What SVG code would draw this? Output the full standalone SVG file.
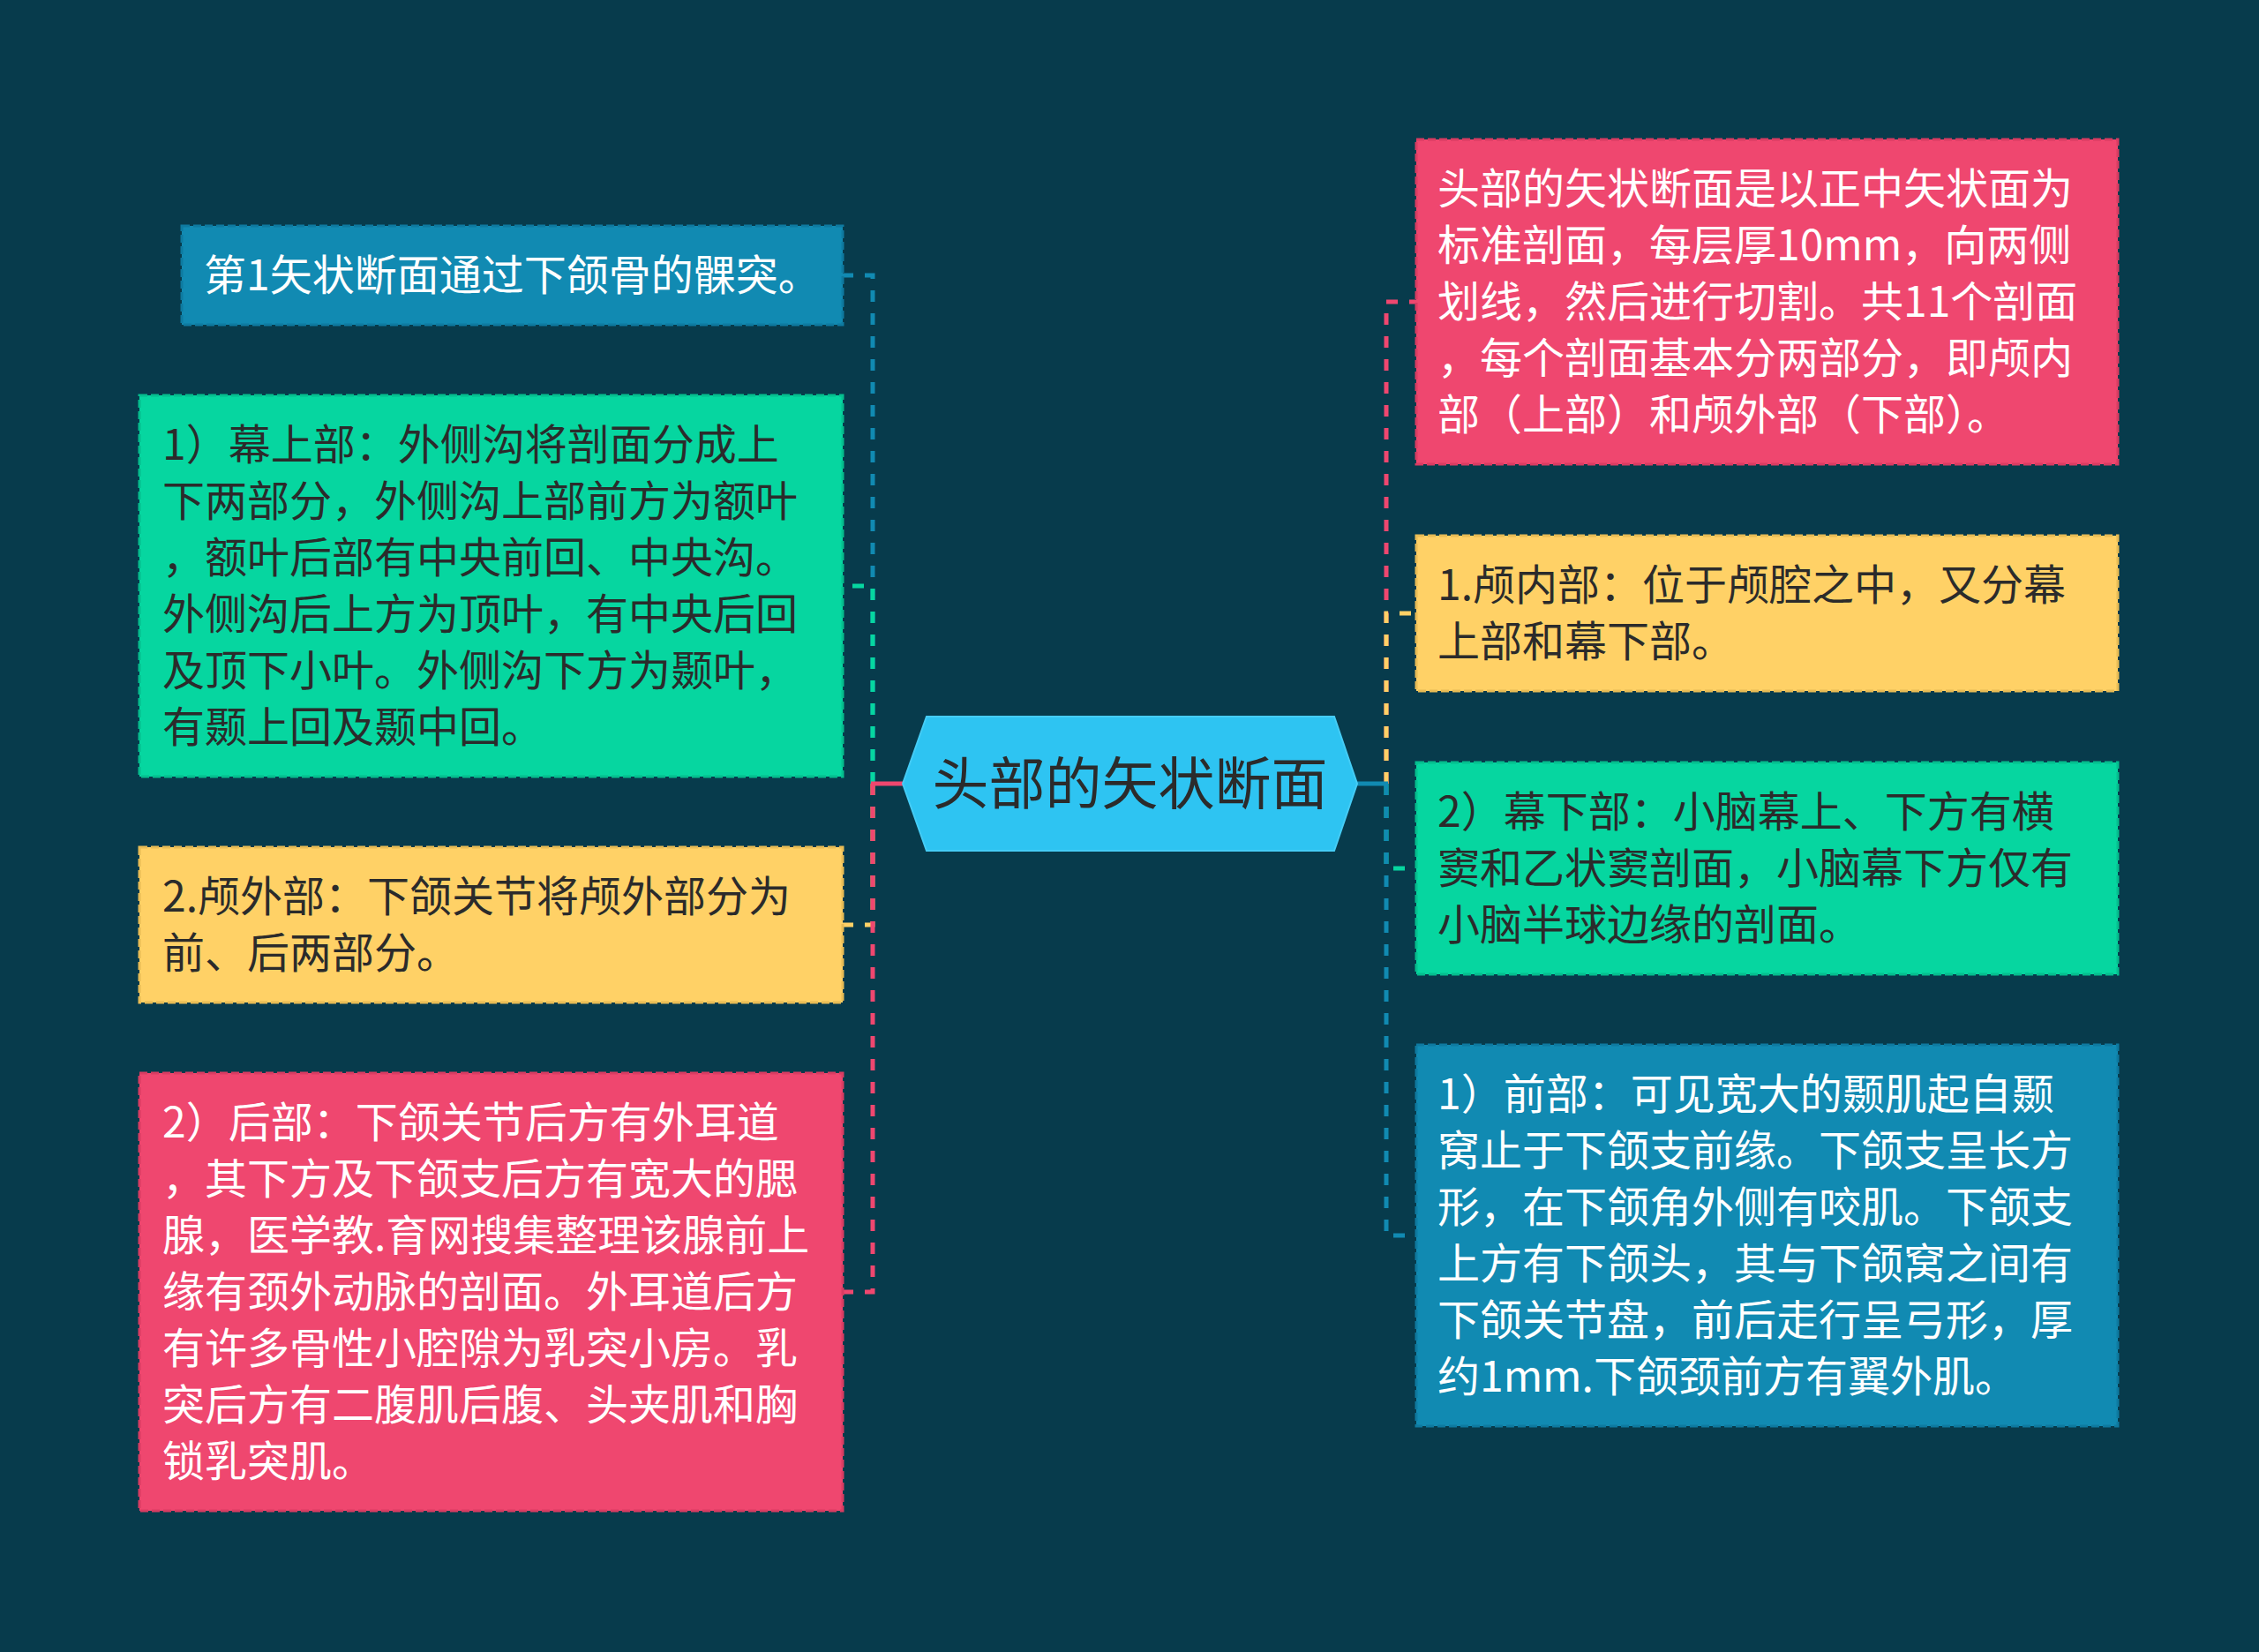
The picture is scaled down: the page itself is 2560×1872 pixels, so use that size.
<svg xmlns="http://www.w3.org/2000/svg" width="2560" height="1872" viewBox="0 0 2560 1872">
  <style>
    .t { font-family: "Noto Sans CJK SC", "Noto Sans", sans-serif; font-size: 48px; }
    .light { fill: #FFFFFF; }
    .dark { fill: #2B2B2B; }
    .conn { fill: none; stroke-width: 5; stroke-dasharray: 13 13; }
    .stub { fill: none; stroke-width: 5; }
    .box { stroke-width: 3; stroke-dasharray: 9 4; }
    .pink { fill: #EF476F; stroke: #D93C62; }
    .yellow { fill: #FFD166; stroke: #E8BC55; }
    .green { fill: #06D6A0; stroke: #05BE8E; }
    .blue { fill: #118AB2; stroke: #0E7AA0; }
  </style>
  <rect x="0" y="0" width="2560" height="1872" fill="#073B4C"/>

  <g id="connectors">
    <path class="conn" stroke="#118AB2" d="M989,888 V312 H955"/>
    <path class="conn" stroke="#06D6A0" d="M989,888 V664 H955"/>
    <path class="conn" stroke="#FFD166" d="M989,888 V1048 H955"/>
    <path class="conn" stroke="#EF476F" d="M989,888 V1464 H955"/>
    <path class="stub" stroke="#EF476F" d="M1024,888 H987"/>
    <path class="conn" stroke="#EF476F" d="M1571,888 V342 H1605"/>
    <path class="conn" stroke="#FFD166" d="M1571,888 V695 H1605"/>
    <path class="conn" stroke="#06D6A0" d="M1571,888 V984 H1605"/>
    <path class="conn" stroke="#118AB2" d="M1571,888 V1400 H1605"/>
    <path class="stub" stroke="#118AB2" d="M1537,888 H1573"/>
  </g>

  <g id="center">
    <polygon points="1023,888 1050,812 1512,812 1538,888 1512,964 1050,964" fill="#2EC4F2" stroke="#45CCF5" stroke-width="2"/>
    <text x="1280.5" y="911" text-anchor="middle" font-family="Noto Sans CJK SC, Noto Sans, sans-serif" font-size="64" fill="#2B2B2B">头部的矢状断面</text>
  </g>

  <g id="node-a">
    <rect class="box blue" x="206" y="256" width="749" height="112"/>
    <text class="t light" x="231" y="329">第1矢状断面通过下颌骨的髁突。</text>
  </g>

  <g id="node-b">
    <rect class="box green" x="158" y="448" width="797" height="432"/>
    <text class="t dark">
      <tspan x="184" y="521">1）幕上部：外侧沟将剖面分成上</tspan>
      <tspan x="184" y="585">下两部分，外侧沟上部前方为额叶</tspan>
      <tspan x="184" y="649">，额叶后部有中央前回、中央沟。</tspan>
      <tspan x="184" y="713">外侧沟后上方为顶叶，有中央后回</tspan>
      <tspan x="184" y="777">及顶下小叶。外侧沟下方为颞叶，</tspan>
      <tspan x="184" y="841">有颞上回及颞中回。</tspan>
    </text>
  </g>

  <g id="node-c">
    <rect class="box yellow" x="158" y="960" width="797" height="176"/>
    <text class="t dark">
      <tspan x="184" y="1033">2.颅外部：下颌关节将颅外部分为</tspan>
      <tspan x="184" y="1097">前、后两部分。</tspan>
    </text>
  </g>

  <g id="node-d">
    <rect class="box pink" x="158" y="1216" width="797" height="496"/>
    <text class="t light">
      <tspan x="184" y="1289">2）后部：下颌关节后方有外耳道</tspan>
      <tspan x="184" y="1353">，其下方及下颌支后方有宽大的腮</tspan>
      <tspan x="184" y="1417">腺，医学教.育网搜集整理该腺前上</tspan>
      <tspan x="184" y="1481">缘有颈外动脉的剖面。外耳道后方</tspan>
      <tspan x="184" y="1545">有许多骨性小腔隙为乳突小房。乳</tspan>
      <tspan x="184" y="1609">突后方有二腹肌后腹、头夹肌和胸</tspan>
      <tspan x="184" y="1673">锁乳突肌。</tspan>
    </text>
  </g>

  <g id="node-e">
    <rect class="box pink" x="1605" y="158" width="795" height="368"/>
    <text class="t light">
      <tspan x="1629" y="231">头部的矢状断面是以正中矢状面为</tspan>
      <tspan x="1629" y="295">标准剖面，每层厚10mm，向两侧</tspan>
      <tspan x="1629" y="359">划线，然后进行切割。共11个剖面</tspan>
      <tspan x="1629" y="423">，每个剖面基本分两部分，即颅内</tspan>
      <tspan x="1629" y="487">部（上部）和颅外部（下部）。</tspan>
    </text>
  </g>

  <g id="node-f">
    <rect class="box yellow" x="1605" y="607" width="795" height="176"/>
    <text class="t dark">
      <tspan x="1629" y="680">1.颅内部：位于颅腔之中，又分幕</tspan>
      <tspan x="1629" y="744">上部和幕下部。</tspan>
    </text>
  </g>

  <g id="node-g">
    <rect class="box green" x="1605" y="864" width="795" height="240"/>
    <text class="t dark">
      <tspan x="1629" y="937">2）幕下部：小脑幕上、下方有横</tspan>
      <tspan x="1629" y="1001">窦和乙状窦剖面，小脑幕下方仅有</tspan>
      <tspan x="1629" y="1065">小脑半球边缘的剖面。</tspan>
    </text>
  </g>

  <g id="node-h">
    <rect class="box blue" x="1605" y="1184" width="795" height="432"/>
    <text class="t light">
      <tspan x="1629" y="1257">1）前部：可见宽大的颞肌起自颞</tspan>
      <tspan x="1629" y="1321">窝止于下颌支前缘。下颌支呈长方</tspan>
      <tspan x="1629" y="1385">形，在下颌角外侧有咬肌。下颌支</tspan>
      <tspan x="1629" y="1449">上方有下颌头，其与下颌窝之间有</tspan>
      <tspan x="1629" y="1513">下颌关节盘，前后走行呈弓形，厚</tspan>
      <tspan x="1629" y="1577">约1mm.下颌颈前方有翼外肌。</tspan>
    </text>
  </g>
</svg>
